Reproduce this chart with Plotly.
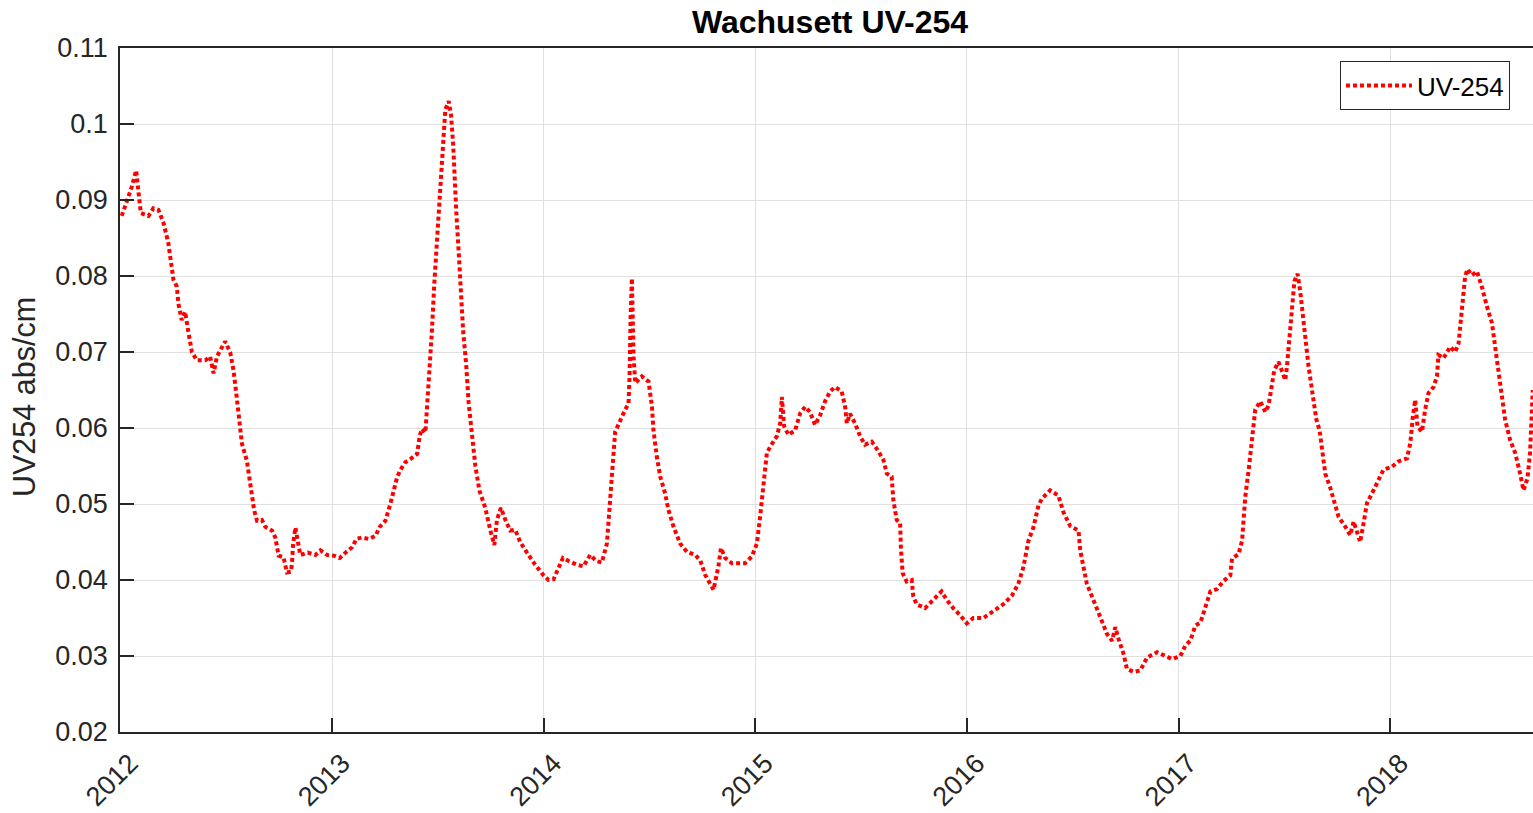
import pandas as pd
import plotly.graph_objects as go

# ---- data (decimal year, UV-254 abs/cm) ----
dec_year = [
    2012.008, 2012.032, 2012.055, 2012.076, 2012.086, 2012.098, 2012.134, 2012.157, 2012.181, 2012.205,
    2012.228, 2012.239, 2012.252, 2012.268, 2012.275, 2012.291, 2012.307, 2012.323, 2012.339, 2012.362,
    2012.402, 2012.425, 2012.441, 2012.457, 2012.496, 2012.520, 2012.535, 2012.548, 2012.559, 2012.575,
    2012.598, 2012.611, 2012.622, 2012.633, 2012.646, 2012.669, 2012.685, 2012.717, 2012.732, 2012.740,
    2012.748, 2012.771, 2012.779, 2012.787, 2012.806, 2012.811, 2012.816, 2012.827, 2012.835, 2012.842,
    2012.850, 2012.885, 2012.921, 2012.945, 2012.976, 2013.008, 2013.036, 2013.063, 2013.094, 2013.115,
    2013.142, 2013.173, 2013.205, 2013.225, 2013.252, 2013.275, 2013.291, 2013.307, 2013.323, 2013.346,
    2013.370, 2013.402, 2013.414, 2013.425, 2013.441, 2013.449, 2013.461, 2013.472, 2013.483, 2013.496,
    2013.508, 2013.520, 2013.527, 2013.535, 2013.551, 2013.562, 2013.572, 2013.578, 2013.587, 2013.598,
    2013.606, 2013.619, 2013.634, 2013.645, 2013.661, 2013.677, 2013.697, 2013.724, 2013.748, 2013.767,
    2013.779, 2013.798, 2013.819, 2013.842, 2013.866, 2013.889, 2013.921, 2013.960, 2014.000, 2014.023,
    2014.047, 2014.070, 2014.091, 2014.118, 2014.157, 2014.188, 2014.220, 2014.248, 2014.275, 2014.299,
    2014.315, 2014.327, 2014.338, 2014.362, 2014.385, 2014.401, 2014.406, 2014.411, 2014.417, 2014.425,
    2014.433, 2014.464, 2014.496, 2014.512, 2014.519, 2014.535, 2014.551, 2014.574, 2014.590, 2014.614,
    2014.645, 2014.677, 2014.716, 2014.740, 2014.763, 2014.803, 2014.826, 2014.838, 2014.858, 2014.890,
    2014.952, 2014.984, 2015.008, 2015.023, 2015.039, 2015.055, 2015.070, 2015.102, 2015.118, 2015.126,
    2015.137, 2015.157, 2015.189, 2015.212, 2015.236, 2015.259, 2015.283, 2015.307, 2015.330, 2015.354,
    2015.377, 2015.409, 2015.425, 2015.433, 2015.448, 2015.472, 2015.496, 2015.519, 2015.551, 2015.574,
    2015.606, 2015.622, 2015.645, 2015.653, 2015.669, 2015.685, 2015.689, 2015.697, 2015.716, 2015.740,
    2015.747, 2015.763, 2015.803, 2015.834, 2015.881, 2015.905, 2015.936, 2015.968, 2016.000, 2016.031,
    2016.078, 2016.125, 2016.172, 2016.212, 2016.243, 2016.267, 2016.291, 2016.314, 2016.338, 2016.354,
    2016.393, 2016.432, 2016.456, 2016.488, 2016.527, 2016.535, 2016.550, 2016.566, 2016.598, 2016.629,
    2016.661, 2016.685, 2016.700, 2016.716, 2016.739, 2016.755, 2016.787, 2016.818, 2016.850, 2016.897,
    2016.936, 2016.968, 2017.007, 2017.031, 2017.054, 2017.078, 2017.102, 2017.125, 2017.149, 2017.180,
    2017.212, 2017.243, 2017.251, 2017.282, 2017.299, 2017.306, 2017.314, 2017.330, 2017.346, 2017.361,
    2017.385, 2017.409, 2017.424, 2017.436, 2017.451, 2017.471, 2017.487, 2017.503, 2017.511, 2017.523,
    2017.535, 2017.546, 2017.561, 2017.574, 2017.587, 2017.598, 2017.613, 2017.634, 2017.650, 2017.665,
    2017.681, 2017.692, 2017.716, 2017.735, 2017.755, 2017.787, 2017.810, 2017.826, 2017.842, 2017.857,
    2017.870, 2017.889, 2017.913, 2017.936, 2017.967, 2018.007, 2018.038, 2018.078, 2018.094, 2018.106,
    2018.117, 2018.128, 2018.149, 2018.164, 2018.180, 2018.204, 2018.220, 2018.227, 2018.251, 2018.283,
    2018.306, 2018.322, 2018.333, 2018.343, 2018.353, 2018.364, 2018.385, 2018.409, 2018.432, 2018.456,
    2018.480, 2018.495, 2018.511, 2018.527, 2018.542, 2018.566, 2018.590, 2018.613, 2018.629, 2018.648,
    2018.660, 2018.673,
]

uv254 = [
    0.0879, 0.0898, 0.0917, 0.0939, 0.0917, 0.0883, 0.0879, 0.0889, 0.0887, 0.0870,
    0.0843, 0.0821, 0.0795, 0.0786, 0.0764, 0.0742, 0.0753, 0.0725, 0.0700, 0.0689,
    0.0689, 0.0694, 0.0672, 0.0694, 0.0714, 0.0699, 0.0676, 0.0646, 0.0615, 0.0579,
    0.0557, 0.0535, 0.0511, 0.0491, 0.0478, 0.0479, 0.0470, 0.0465, 0.0456, 0.0443,
    0.0432, 0.0430, 0.0421, 0.0410, 0.0411, 0.0423, 0.0447, 0.0469, 0.0456, 0.0443,
    0.0433, 0.0436, 0.0433, 0.0439, 0.0433, 0.0432, 0.0429, 0.0436, 0.0443, 0.0454,
    0.0456, 0.0454, 0.0458, 0.0470, 0.0478, 0.0500, 0.0520, 0.0535, 0.0545, 0.0555,
    0.0559, 0.0566, 0.0590, 0.0599, 0.0594, 0.0625, 0.0672, 0.0729, 0.0790, 0.0851,
    0.0903, 0.0950, 0.0998, 0.1019, 0.1030, 0.1012, 0.0974, 0.0927, 0.0884, 0.0833,
    0.0785, 0.0729, 0.0682, 0.0634, 0.0592, 0.0550, 0.0517, 0.0495, 0.0465, 0.0446,
    0.0479, 0.0495, 0.0479, 0.0465, 0.0466, 0.0450, 0.0436, 0.0420, 0.0406, 0.0400,
    0.0401, 0.0415, 0.0429, 0.0425, 0.0420, 0.0418, 0.0433, 0.0425, 0.0423, 0.0448,
    0.0501, 0.0554, 0.0595, 0.0611, 0.0624, 0.0632, 0.0668, 0.0746, 0.0797, 0.0694,
    0.0659, 0.0668, 0.0661, 0.0628, 0.0597, 0.0562, 0.0536, 0.0514, 0.0492, 0.0470,
    0.0448, 0.0437, 0.0433, 0.0426, 0.0407, 0.0387, 0.0418, 0.0442, 0.0429, 0.0422,
    0.0422, 0.0431, 0.0448, 0.0483, 0.0527, 0.0567, 0.0575, 0.0589, 0.0606, 0.0641,
    0.0602, 0.0591, 0.0597, 0.0619, 0.0628, 0.0621, 0.0604, 0.0617, 0.0635, 0.0648,
    0.0654, 0.0648, 0.0628, 0.0606, 0.0619, 0.0606, 0.0589, 0.0578, 0.0582, 0.0573,
    0.0558, 0.0540, 0.0536, 0.0505, 0.0479, 0.0475, 0.0440, 0.0409, 0.0398, 0.0400,
    0.0379, 0.0368, 0.0363, 0.0372, 0.0385, 0.0374, 0.0363, 0.0354, 0.0343, 0.0350,
    0.0350, 0.0359, 0.0368, 0.0379, 0.0395, 0.0417, 0.0452, 0.0469, 0.0498, 0.0507,
    0.0518, 0.0511, 0.0489, 0.0471, 0.0465, 0.0439, 0.0417, 0.0395, 0.0373, 0.0351,
    0.0329, 0.0320, 0.0338, 0.0322, 0.0303, 0.0283, 0.0279, 0.0281, 0.0298, 0.0305,
    0.0300, 0.0296, 0.0300, 0.0314, 0.0320, 0.0340, 0.0344, 0.0366, 0.0385, 0.0388,
    0.0399, 0.0406, 0.0428, 0.0434, 0.0452, 0.0480, 0.0510, 0.0545, 0.0584, 0.0624,
    0.0635, 0.0621, 0.0630, 0.0654, 0.0676, 0.0687, 0.0676, 0.0663, 0.0681, 0.0720,
    0.0764, 0.0793, 0.0803, 0.0779, 0.0746, 0.0716, 0.0681, 0.0641, 0.0611, 0.0597,
    0.0567, 0.0540, 0.0521, 0.0501, 0.0483, 0.0470, 0.0459, 0.0477, 0.0461, 0.0450,
    0.0470, 0.0501, 0.0514, 0.0527, 0.0545, 0.0549, 0.0556, 0.0560, 0.0580, 0.0615,
    0.0637, 0.0602, 0.0595, 0.0624, 0.0646, 0.0654, 0.0668, 0.0696, 0.0692, 0.0707,
    0.0700, 0.0711, 0.0742, 0.0773, 0.0799, 0.0809, 0.0801, 0.0806, 0.0786, 0.0760,
    0.0738, 0.0707, 0.0672, 0.0641, 0.0611, 0.0584, 0.0567, 0.0540, 0.0518, 0.0534,
    0.0567, 0.0650,
]

x_tick_dates = ["2012-01-01", "2013-01-01", "2014-01-01", "2015-01-01",
                "2016-01-01", "2017-01-01", "2018-01-01"]
x_tick_labels = ["2012", "2013", "2014", "2015", "2016", "2017", "2018"]
y_tick_vals = [0.02, 0.03, 0.04, 0.05, 0.06, 0.07, 0.08, 0.09, 0.10, 0.11]
y_tick_labels = ["0.02", "0.03", "0.04", "0.05", "0.06", "0.07", "0.08", "0.09", "0.1", "0.11"]
x_range = ["2012-01-01", "2018-09-04"]
y_range = [0.02, 0.11]


def to_date(y):
    yr = int(y)
    start = pd.Timestamp(year=yr, month=1, day=1)
    end = pd.Timestamp(year=yr + 1, month=1, day=1)
    return start + (end - start) * (y - yr)


dates = [to_date(v) for v in dec_year]

FONT = "Liberation Sans, Arial, Helvetica, sans-serif"
AX = "#262626"

W, H = 1533, 813
L, R, T, B = 120, 0, 48, 81
plot_w, plot_h = W - L - R, H - T - B

fig = go.Figure()
fig.add_trace(go.Scatter(
    x=dates, y=uv254, mode="lines", name="UV-254",
    line=dict(color="#ff0000", width=4, dash="4px,3px"),
))

fig.update_layout(
    width=W, height=H,
    margin=dict(l=L, r=R, t=T, b=B, autoexpand=False),
    paper_bgcolor="white", plot_bgcolor="white",
    font=dict(family=FONT, size=27, color=AX),
    title=dict(text="Wachusett UV-254", xref="paper", x=(830 - L) / plot_w, xanchor="center",
               yref="container", y=1 - 22 / H, yanchor="middle",
               font=dict(family=FONT, size=32, color="black", weight="bold")),
    showlegend=True,
    legend=dict(x=0.9837, xanchor="right", y=0.981, yanchor="top",
                bgcolor="white", bordercolor=AX, borderwidth=1,
                font=dict(family=FONT, size=26, color="black"),
                itemwidth=66),
    annotations=[dict(
        text="UV254 abs/cm", textangle=-90, showarrow=False,
        xref="paper", yref="paper",
        x=(24 - L) / plot_w, xanchor="center",
        y=(H - B - 397) / plot_h, yanchor="middle",
        font=dict(family=FONT, size=30.5, color=AX),
    )],
)

fig.update_xaxes(
    type="date", range=x_range, automargin=False,
    tickmode="array", tickvals=x_tick_dates, ticktext=x_tick_labels,
    tickangle=-45, ticks="inside", ticklen=14, tickwidth=1.5, tickcolor=AX,
    showline=True, linecolor=AX, linewidth=1.5, mirror=True,
    showgrid=True, gridcolor="#dfdfdf", gridwidth=1,
    zeroline=False, tickfont=dict(size=27, color=AX),
    ticklabelstandoff=3, ticklabelshift=10,
)
fig.update_yaxes(
    range=y_range, automargin=False,
    tickmode="array", tickvals=y_tick_vals, ticktext=y_tick_labels,
    ticks="inside", ticklen=14, tickwidth=1.5, tickcolor=AX,
    showline=True, linecolor=AX, linewidth=1.5,
    showgrid=True, gridcolor="#dfdfdf", gridwidth=1,
    zeroline=False, tickfont=dict(size=27, color=AX),
    ticklabelstandoff=5,
)

# remove the default page margin / scrollbars so the figure fills the window exactly
fig.write_html(
    "out.html",
    config={"displayModeBar": False},
    post_script="document.documentElement.style.overflow='hidden';"
                "document.body.style.margin='0';document.body.style.overflow='hidden';",
)
